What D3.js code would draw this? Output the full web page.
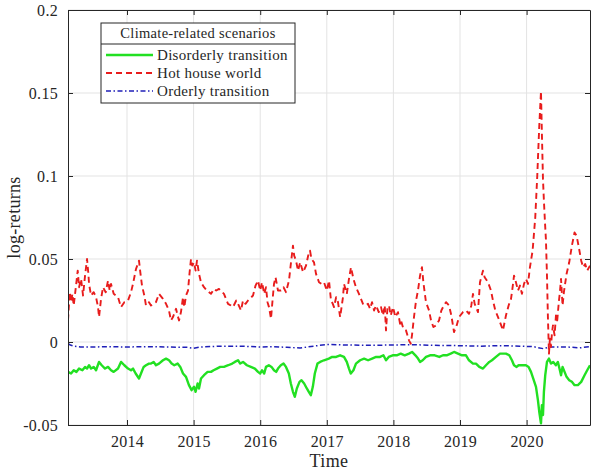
<!DOCTYPE html>
<html>
<head>
<meta charset="utf-8">
<script src="https://cdn.jsdelivr.net/npm/d3@7"></script>
<style>
  html, body { margin: 0; padding: 0; background: #fff; }
  svg { display: block; }
  svg text { font-family: "Liberation Serif", "Times New Roman", "DejaVu Serif", serif !important; fill: #262626; }
</style>
</head>
<body>
<div id="chart"></div>
<script>
// ---- data (decimal years, log-returns) ----
const xTickYears = [2014, 2015, 2016, 2017, 2018, 2019, 2020];
const yTickValues = [-0.05, 0, 0.05, 0.1, 0.15, 0.2];
const yTickLabels = ["-0.05", "0", "0.05", "0.1", "0.15", "0.2"];
const legendTitle = "Climate-related scenarios";
const seriesNames = ["Disorderly transition", "Hot house world", "Orderly transition"];

const hotTimes = [2013.114,2013.14,2013.16,2013.18,2013.20,2013.24,2013.26,2013.28,2013.31,2013.34,2013.37,2013.40,2013.42,2013.43,2013.46,2013.50,2013.535,2013.565,2013.58,2013.61,2013.64,2013.68,2013.715,2013.74,2013.76,2013.80,2013.865,2013.91,2013.96,2014.015,2014.06,2014.09,2014.135,2014.18,2014.20,2014.225,2014.26,2014.285,2014.33,2014.36,2014.435,2014.48,2014.54,2014.586,2014.63,2014.66,2014.69,2014.736,2014.76,2014.781,2014.81,2014.841,2014.86,2014.886,2014.916,2014.94,2014.961,2014.98,2015.006,2015.03,2015.051,2015.081,2015.111,2015.156,2015.20,2015.261,2015.306,2015.34,2015.381,2015.456,2015.517,2015.56,2015.592,2015.64,2015.667,2015.712,2015.742,2015.78,2015.817,2015.892,2015.93,2015.967,2016.00,2016.027,2016.06,2016.087,2016.11,2016.132,2016.162,2016.185,2016.207,2016.23,2016.267,2016.312,2016.35,2016.387,2016.432,2016.46,2016.492,2016.51,2016.538,2016.568,2016.60,2016.643,2016.688,2016.72,2016.748,2016.77,2016.808,2016.838,2016.883,2016.92,2016.958,2017.00,2017.033,2017.063,2017.09,2017.108,2017.14,2017.168,2017.20,2017.243,2017.258,2017.30,2017.333,2017.363,2017.40,2017.438,2017.483,2017.543,2017.58,2017.619,2017.65,2017.679,2017.71,2017.739,2017.78,2017.814,2017.844,2017.87,2017.889,2017.91,2017.934,2017.96,2017.994,2018.03,2018.069,2018.10,2018.114,2018.15,2018.189,2018.234,2018.26,2018.279,2018.309,2018.34,2018.369,2018.40,2018.429,2018.45,2018.489,2018.535,2018.565,2018.60,2018.64,2018.685,2018.72,2018.745,2018.79,2018.835,2018.87,2018.91,2018.95,2018.985,2019.045,2019.09,2019.135,2019.17,2019.195,2019.22,2019.27,2019.30,2019.345,2019.37,2019.42,2019.465,2019.495,2019.53,2019.571,2019.60,2019.646,2019.67,2019.69,2019.73,2019.766,2019.79,2019.811,2019.84,2019.871,2019.90,2019.93,2019.961,2019.99,2020.021,2020.05,2020.09,2020.13,2020.16,2020.19,2020.216,2020.23,2020.246,2020.26,2020.276,2020.29,2020.306,2020.32,2020.336,2020.35,2020.366,2020.38,2020.396,2020.42,2020.441,2020.46,2020.486,2020.50,2020.517,2020.54,2020.56,2020.60,2020.64,2020.68,2020.72,2020.75,2020.78,2020.82,2020.85,2020.88,2020.91,2020.952];
const hotValues = [0.013,0.030,0.024,0.029,0.022,0.036,0.043,0.033,0.038,0.028,0.040,0.050,0.041,0.035,0.028,0.030,0.027,0.021,0.015,0.026,0.033,0.030,0.037,0.031,0.035,0.029,0.027,0.021,0.024,0.025,0.030,0.035,0.044,0.049,0.042,0.034,0.028,0.022,0.024,0.022,0.024,0.029,0.026,0.023,0.019,0.013,0.015,0.020,0.016,0.013,0.018,0.027,0.021,0.028,0.031,0.042,0.050,0.046,0.048,0.043,0.049,0.041,0.036,0.033,0.031,0.029,0.032,0.031,0.032,0.029,0.023,0.022,0.021,0.025,0.023,0.019,0.025,0.023,0.025,0.028,0.034,0.037,0.031,0.036,0.029,0.033,0.024,0.021,0.014,0.025,0.035,0.039,0.031,0.031,0.033,0.030,0.037,0.047,0.058,0.052,0.049,0.043,0.048,0.042,0.046,0.052,0.055,0.050,0.048,0.041,0.036,0.035,0.036,0.031,0.037,0.025,0.023,0.021,0.027,0.024,0.015,0.027,0.035,0.029,0.038,0.045,0.038,0.033,0.029,0.023,0.022,0.023,0.020,0.024,0.019,0.022,0.018,0.021,0.016,0.022,0.007,0.020,0.022,0.016,0.021,0.015,0.018,0.011,0.013,0.008,0.007,0.001,-0.001,0.004,0.015,0.025,0.031,0.040,0.045,0.036,0.024,0.019,0.013,0.009,0.010,0.013,0.019,0.021,0.024,0.022,0.016,0.006,0.010,0.015,0.018,0.019,0.017,0.022,0.029,0.023,0.018,0.036,0.043,0.039,0.036,0.031,0.025,0.019,0.015,0.012,0.007,0.012,0.016,0.022,0.026,0.033,0.040,0.036,0.031,0.034,0.029,0.035,0.038,0.035,0.045,0.055,0.075,0.100,0.130,0.151,0.125,0.098,0.085,0.072,0.062,0.040,0.015,-0.007,0.002,-0.003,0.005,0.010,0.004,0.016,0.013,0.025,0.030,0.038,0.022,0.030,0.041,0.048,0.058,0.066,0.064,0.058,0.049,0.045,0.047,0.043,0.046];

const disTimes = [2013.114,2013.16,2013.20,2013.24,2013.28,2013.33,2013.37,2013.40,2013.43,2013.46,2013.50,2013.535,2013.58,2013.62,2013.67,2013.715,2013.76,2013.80,2013.865,2013.91,2013.96,2014.015,2014.06,2014.09,2014.13,2014.18,2014.21,2014.25,2014.285,2014.33,2014.36,2014.40,2014.435,2014.48,2014.54,2014.586,2014.631,2014.67,2014.71,2014.76,2014.80,2014.841,2014.886,2014.93,2014.97,2015.006,2015.03,2015.06,2015.081,2015.111,2015.156,2015.21,2015.261,2015.30,2015.35,2015.40,2015.456,2015.52,2015.58,2015.62,2015.667,2015.70,2015.742,2015.80,2015.86,2015.92,2015.967,2016.00,2016.027,2016.06,2016.087,2016.13,2016.17,2016.207,2016.24,2016.267,2016.31,2016.35,2016.387,2016.43,2016.46,2016.492,2016.52,2016.55,2016.59,2016.62,2016.66,2016.70,2016.73,2016.76,2016.79,2016.82,2016.86,2016.90,2016.958,2017.03,2017.08,2017.14,2017.20,2017.258,2017.30,2017.333,2017.36,2017.40,2017.438,2017.50,2017.56,2017.62,2017.68,2017.74,2017.80,2017.85,2017.889,2017.93,2017.99,2018.05,2018.11,2018.17,2018.234,2018.28,2018.33,2018.37,2018.40,2018.44,2018.49,2018.55,2018.62,2018.69,2018.745,2018.80,2018.86,2018.91,2018.97,2019.03,2019.09,2019.135,2019.195,2019.24,2019.29,2019.345,2019.39,2019.44,2019.48,2019.54,2019.60,2019.65,2019.69,2019.74,2019.78,2019.811,2019.85,2019.88,2019.93,2019.99,2020.03,2020.066,2020.10,2020.141,2020.17,2020.19,2020.216,2020.23,2020.246,2020.26,2020.28,2020.306,2020.336,2020.366,2020.40,2020.44,2020.47,2020.50,2020.517,2020.54,2020.57,2020.60,2020.64,2020.68,2020.72,2020.77,2020.82,2020.87,2020.91,2020.952];
const disValues = [-0.018,-0.019,-0.017,-0.018,-0.016,-0.017,-0.015,-0.016,-0.014,-0.016,-0.015,-0.017,-0.012,-0.014,-0.016,-0.015,-0.017,-0.018,-0.016,-0.012,-0.014,-0.016,-0.017,-0.016,-0.019,-0.022,-0.019,-0.015,-0.014,-0.013,-0.013,-0.012,-0.014,-0.013,-0.011,-0.010,-0.011,-0.013,-0.014,-0.013,-0.015,-0.019,-0.021,-0.026,-0.029,-0.027,-0.030,-0.025,-0.028,-0.022,-0.020,-0.018,-0.018,-0.017,-0.016,-0.015,-0.015,-0.014,-0.013,-0.012,-0.011,-0.013,-0.012,-0.014,-0.015,-0.016,-0.018,-0.019,-0.017,-0.019,-0.015,-0.014,-0.015,-0.017,-0.018,-0.016,-0.014,-0.013,-0.015,-0.019,-0.025,-0.030,-0.033,-0.028,-0.024,-0.023,-0.025,-0.028,-0.030,-0.032,-0.027,-0.019,-0.013,-0.012,-0.011,-0.010,-0.009,-0.009,-0.008,-0.009,-0.012,-0.016,-0.019,-0.017,-0.013,-0.011,-0.010,-0.011,-0.010,-0.009,-0.009,-0.008,-0.011,-0.009,-0.008,-0.008,-0.007,-0.008,-0.007,-0.006,-0.008,-0.010,-0.012,-0.011,-0.009,-0.008,-0.008,-0.009,-0.008,-0.008,-0.007,-0.006,-0.007,-0.008,-0.008,-0.011,-0.013,-0.013,-0.015,-0.016,-0.014,-0.012,-0.011,-0.009,-0.007,-0.007,-0.007,-0.008,-0.011,-0.014,-0.015,-0.014,-0.014,-0.014,-0.015,-0.018,-0.022,-0.027,-0.035,-0.042,-0.049,-0.038,-0.044,-0.030,-0.020,-0.012,-0.010,-0.013,-0.012,-0.014,-0.012,-0.017,-0.020,-0.015,-0.018,-0.021,-0.023,-0.024,-0.026,-0.026,-0.024,-0.020,-0.017,-0.014];

const ordTimes = [2013.114,2013.15,2013.20,2013.30,2013.50,2013.70,2014.00,2014.30,2014.60,2014.90,2015.00,2015.10,2015.40,2015.70,2016.00,2016.20,2016.40,2016.60,2016.80,2017.00,2017.30,2017.60,2018.00,2018.30,2018.60,2019.00,2019.30,2019.60,2019.90,2020.10,2020.25,2020.35,2020.60,2020.80,2020.952];
const ordValues = [-0.0010,-0.0018,-0.0025,-0.0030,-0.0030,-0.0028,-0.0030,-0.0028,-0.0030,-0.0032,-0.0038,-0.0030,-0.0025,-0.0025,-0.0030,-0.0028,-0.0032,-0.0036,-0.0025,-0.0015,-0.0018,-0.0020,-0.0018,-0.0016,-0.0020,-0.0022,-0.0025,-0.0022,-0.0025,-0.0028,-0.0040,-0.0030,-0.0030,-0.0035,-0.0028];

// ---- layout ----
const W = 592, H = 471;
const L = 68, R = 590, T = 10, B = 425;
const xDomain = [2013.114, 2020.952];
const yDomain = [-0.05, 0.2];
const FONT = '"Liberation Serif", "Times New Roman", serif';

const svg = d3.select("#chart").append("svg").attr("width", W).attr("height", H)
  .attr("font-family", FONT);
const x = d3.scaleLinear().domain(xDomain).range([L, R]);
const y = d3.scaleLinear().domain(yDomain).range([B, T]);

// grid
const grid = svg.append("g");
grid.selectAll("line.gx").data(xTickYears).join("line")
  .attr("x1", d => x(d)).attr("x2", d => x(d)).attr("y1", T).attr("y2", B)
  .attr("stroke", "#e3e3e3").attr("stroke-width", 1);
grid.selectAll("line.gy").data(yTickValues).join("line")
  .attr("y1", d => y(d)).attr("y2", d => y(d)).attr("x1", L).attr("x2", R)
  .attr("stroke", "#e3e3e3").attr("stroke-width", 1);

// data
svg.append("clipPath").attr("id", "clip").append("rect")
  .attr("x", L).attr("y", T).attr("width", R - L).attr("height", B - T);
const plot = svg.append("g").attr("clip-path", "url(#clip)");
const line = d3.line().x(d => x(d[0])).y(d => y(d[1]));
const zip = (t, v) => t.map((d, i) => [d, v[i]]);

const styles = [
  { name: seriesNames[0], data: zip(disTimes, disValues), color: "#22e022", width: 2.4, dash: null },
  { name: seriesNames[1], data: zip(hotTimes, hotValues), color: "#e81c1c", width: 1.9, dash: "6,4" },
  { name: seriesNames[2], data: zip(ordTimes, ordValues), color: "#1f1fb8", width: 1.5, dash: "5,2.5,1.5,2.5" }
];
[styles[0], styles[2], styles[1]].forEach(s => {
  plot.append("path").attr("d", line(s.data)).attr("fill", "none")
    .attr("stroke", s.color).attr("stroke-width", s.width)
    .attr("stroke-dasharray", s.dash).attr("stroke-linejoin", "round");
});

// axes (MATLAB style: box, inward ticks)
const axCol = "#262626";
const axB = d3.axisBottom(x).tickValues(xTickYears).tickFormat(d3.format("d")).tickSizeInner(-5).tickSizeOuter(0).tickPadding(11);
const axT = d3.axisTop(x).tickValues(xTickYears).tickFormat("").tickSizeInner(-5).tickSizeOuter(0);
const axLft = d3.axisLeft(y).tickValues(yTickValues).tickFormat((d, i) => yTickLabels[i]).tickSizeInner(-5).tickSizeOuter(0).tickPadding(10);
const axRgt = d3.axisRight(y).tickValues(yTickValues).tickFormat("").tickSizeInner(-5).tickSizeOuter(0);

function styleAxis(g) {
  g.attr("font-family", FONT);
  g.selectAll("path.domain").attr("stroke", axCol).attr("stroke-width", 1);
  g.selectAll(".tick line").attr("stroke", axCol).attr("stroke-width", 1);
  g.selectAll(".tick text").attr("fill", axCol).attr("font-family", FONT)
    .style("font-size", "16px").style("letter-spacing", "0.3px");
}
svg.append("g").attr("transform", `translate(0,${B})`).call(axB).call(styleAxis);
svg.append("g").attr("transform", `translate(0,${T})`).call(axT).call(styleAxis);
svg.append("g").attr("transform", `translate(${L},0)`).call(axLft).call(styleAxis);
svg.append("g").attr("transform", `translate(${R},0)`).call(axRgt).call(styleAxis);

// axis labels
svg.append("text").attr("x", (L + R) / 2).attr("y", 467).attr("text-anchor", "middle")
  .style("font-size", "18px").style("letter-spacing", "0.4px").text("Time");
svg.append("text").attr("transform", `translate(20,${(T + B) / 2}) rotate(-90)`)
  .attr("text-anchor", "middle").style("font-size", "18px").style("letter-spacing", "0.3px").text("log-returns");

// legend
const lg = svg.append("g");
const lx = 101, ly = 23, lw = 194, lh = 80;
lg.append("rect").attr("x", lx).attr("y", ly).attr("width", lw).attr("height", lh)
  .attr("fill", "#fff").attr("stroke", axCol).attr("stroke-width", 1);
lg.append("line").attr("x1", lx).attr("x2", lx + lw).attr("y1", 44).attr("y2", 44)
  .attr("stroke", axCol).attr("stroke-width", 1);
lg.append("text").attr("x", lx + lw / 2).attr("y", 38).attr("text-anchor", "middle")
  .style("font-size", "14.5px").style("letter-spacing", "0.3px").text(legendTitle);
const rowY = [55, 73, 91];
styles.forEach((s, i) => {
  lg.append("line").attr("x1", 106).attr("x2", 153).attr("y1", rowY[i]).attr("y2", rowY[i])
    .attr("stroke", s.color).attr("stroke-width", s.width).attr("stroke-dasharray", s.dash);
  lg.append("text").attr("x", 157).attr("y", rowY[i] + 5).style("font-size", "15px")
    .style("letter-spacing", "0.3px").text(s.name);
});
</script>
</body>
</html>
